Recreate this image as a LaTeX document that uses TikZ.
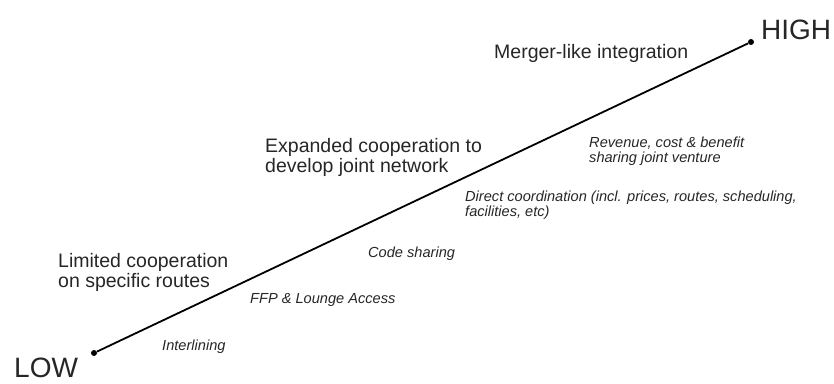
\documentclass[tikz,border=0pt]{standalone}
\usepackage{fontspec}
\setmainfont{Liberation Sans}
\usetikzlibrary{positioning}

\begin{document}
\begin{tikzpicture}[x=1pt,y=-1pt,
		endpt/.style={circle,fill=black,inner sep=0pt,minimum size=6pt},
		extreme/.style={inner sep=0pt,font=\fontsize{28}{30}\selectfont,text=black!85},
		level/.style={inner sep=0pt,align=left,font=\fontsize{19.5}{20}\selectfont,text=black!85},
		practice/.style={inner sep=0pt,align=left,font=\fontsize{14.6}{15}\selectfont\itshape,text=black!85}]
		\useasboundingbox (0,0) rectangle (834,383);
		
		\node[endpt] (low) at (94,353) {};
		\node[endpt] (high) at (751,42) {};
		\draw[line width=1.8pt] (low)--(high);
		
		\node[extreme,anchor=base west] (lowlbl) at (14,377) {LOW};
		\node[extreme,anchor=base west] (highlbl) at (761,39) {HIGH};
		
		\node[level,anchor=north west] (limited) at (58,253) {Limited cooperation\\on specific routes};
		\node[level,anchor=north west] (expanded) at (265,138) {Expanded cooperation to\\develop joint network};
		\node[level,anchor=base west] (merger) at (494,58) {Merger-like integration};
		
		\node[practice,anchor=base west] (interl) at (162,350) {Interlining};
		\node[practice,anchor=base west] (ffp) at (250,303) {FFP \& Lounge Access};
		\node[practice,anchor=base west] (codeshare) at (368,257) {Code sharing};
		\node[practice,anchor=north west] (direct) at (465,191) {Direct coordination (incl. prices, routes, scheduling,\\facilities, etc)};
		\node[practice,anchor=north west] (revenue) at (589,137) {Revenue, cost \& benefit\\sharing joint venture};
	\end{tikzpicture}
\end{document}
